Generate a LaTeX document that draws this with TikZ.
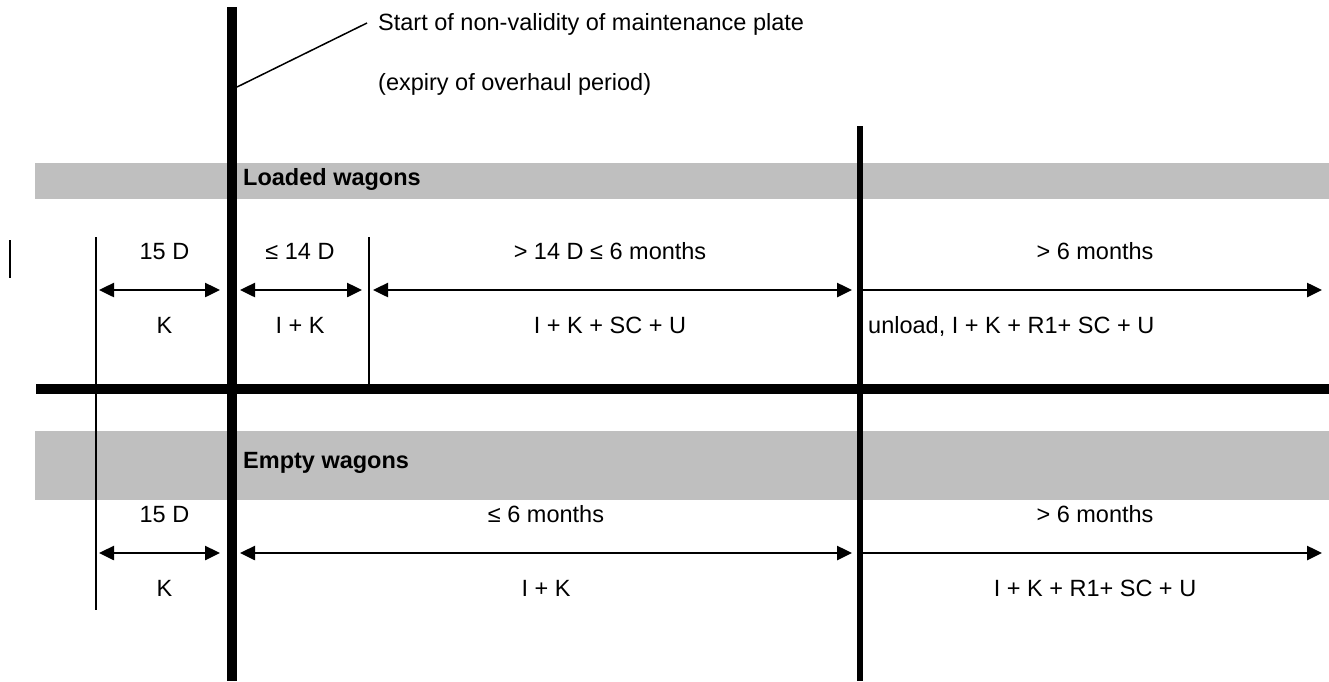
\documentclass[tikz,border=0pt]{standalone}
\usepackage{fontspec}
\setmainfont{Liberation Sans}
\usetikzlibrary{arrows.meta}
\begin{document}
\begin{tikzpicture}[x=1pt,y=-1pt,
  txt/.style={font=\fontsize{23.5}{28}\selectfont, inner sep=0pt, anchor=base},
  head/.style={font=\fontsize{23.5}{28}\selectfont\bfseries, inner sep=0pt, anchor=base west},
  band/.style={fill=black!25, draw=none},
  thickline/.style={line width=10pt},
  midline/.style={line width=6pt},
  thinline/.style={line width=1.8pt},
  tip/.tip={Triangle[length=15pt,width=14pt]},
  dim/.style={line width=2.5pt, tip-tip},
  ray/.style={line width=2.5pt, -tip},
  leader/.style={line width=1.5pt}]
\useasboundingbox (0,0) rectangle (1329,681);

% grey bands
\fill[band] (35,163) rectangle (1329,199);
\fill[band] (35,431) rectangle (1329,500);

% coordinates
\coordinate (v1t) at (232,7);   \coordinate (v1b) at (232,681);
\coordinate (v2t) at (860,126); \coordinate (v2b) at (860,681);
\coordinate (a1t) at (96,237);  \coordinate (a1b) at (96,610);
\coordinate (a2t) at (369,237); \coordinate (a2b) at (369,384);
\coordinate (mt) at (10,240);   \coordinate (mb) at (10,278);
\coordinate (hl) at (36,389);   \coordinate (hr) at (1329,389);
\coordinate (lp) at (237,87);   \coordinate (lq) at (367,23);

% vertical and horizontal rules
\draw[thinline] (a1t) -- (a1b);
\draw[thinline] (a2t) -- (a2b);
\draw[line width=2.5pt] (mt) -- (mb);
\draw[thickline] (hl) -- (hr);
\draw[thickline] (v1t) -- (v1b);
\draw[midline] (v2t) -- (v2b);
\draw[leader] (lp) -- (lq);

% top notes
\node[txt, anchor=base west] (n1) at (378,30) {Start of non-validity of maintenance plate};
\node[txt, anchor=base west] (n2) at (378,90) {(expiry of overhaul period)};

% band headings
\node[head] (hload) at (243,185) {Loaded wagons};
\node[head] (hempty) at (243,468) {Empty wagons};

% loaded row arrows
\coordinate (L1a) at (99,290);  \coordinate (L1b) at (220,290);
\coordinate (L2a) at (240,290); \coordinate (L2b) at (362,290);
\coordinate (L3a) at (373,290); \coordinate (L3b) at (852,290);
\coordinate (L4a) at (862,290); \coordinate (L4b) at (1322,290);
\draw[dim] (L1a) -- (L1b);
\draw[dim] (L2a) -- (L2b);
\draw[dim] (L3a) -- (L3b);
\draw[ray] (L4a) -- (L4b);

% loaded row labels
\node[txt] (l1u) at (164.5,259) {15 D};
\node[txt] (l1d) at (164.5,333) {K};
\node[txt] (l2u) at (300,259) {≤ 14 D};
\node[txt] (l2d) at (300,333) {I + K};
\node[txt] (l3u) at (610,259) {> 14 D ≤ 6 months};
\node[txt] (l3d) at (610,333) {I + K + SC + U};
\node[txt] (l4u) at (1095,259) {> 6 months};
\node[txt, anchor=base west] (l4d) at (868,333) {unload, I + K + R1+ SC + U};

% empty row arrows
\coordinate (E1a) at (99,553);  \coordinate (E1b) at (220,553);
\coordinate (E2a) at (240,553); \coordinate (E2b) at (852,553);
\coordinate (E3a) at (862,553); \coordinate (E3b) at (1322,553);
\draw[dim] (E1a) -- (E1b);
\draw[dim] (E2a) -- (E2b);
\draw[ray] (E3a) -- (E3b);

% empty row labels
\node[txt] (e1u) at (164.5,522) {15 D};
\node[txt] (e1d) at (164.5,596) {K};
\node[txt] (e2u) at (546,522) {≤ 6 months};
\node[txt] (e2d) at (546,596) {I + K};
\node[txt] (e3u) at (1095,522) {> 6 months};
\node[txt] (e3d) at (1095,596) {I + K + R1+ SC + U};
\end{tikzpicture}
\end{document}
